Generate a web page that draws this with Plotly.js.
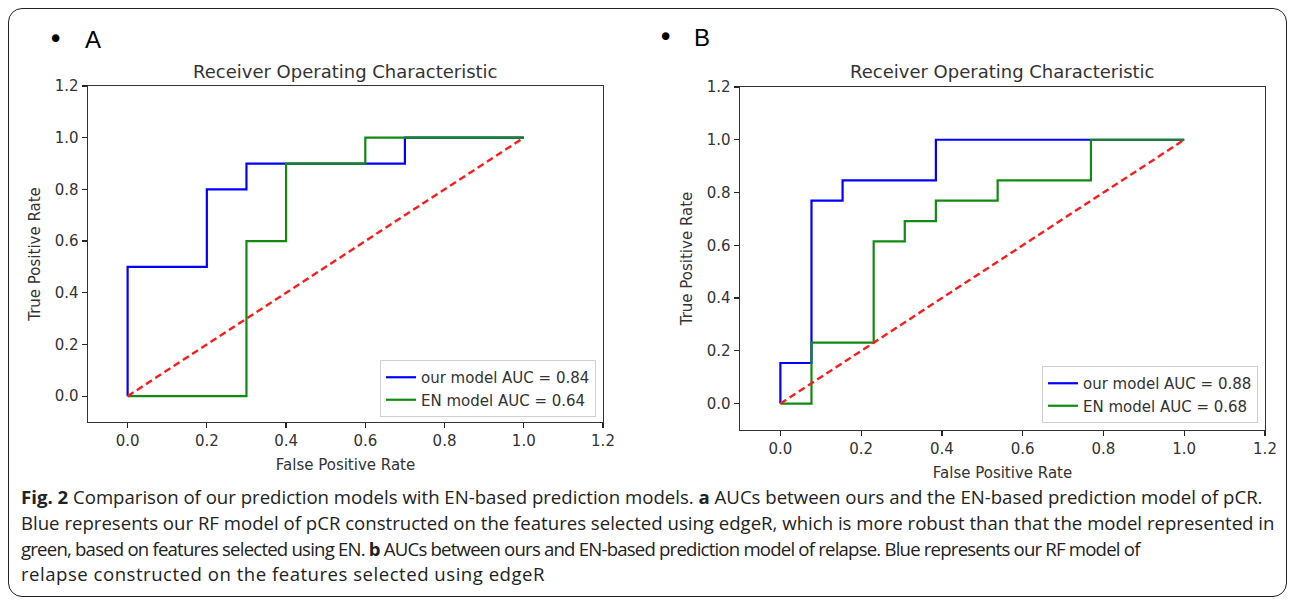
<!DOCTYPE html>
<html>
<head>
<meta charset="utf-8">
<script src="https://cdn.plot.ly/plotly-3.0.1.min.js"></script>
<style>
  html, body { margin: 0; padding: 0; background: #ffffff; }
  #wrap { position: relative; width: 1295px; height: 605px; }
  #chart { position: absolute; left: 0; top: 0; width: 1295px; height: 605px; }
  #frame { position: absolute; left: 8px; top: 8px; width: 1277px; height: 587px;
           border: 1.5px solid #222; border-radius: 14px; pointer-events: none; }
</style>
</head>
<body>
<div id="wrap">
  <div id="chart"></div>
  <div id="frame"></div>
</div>
<script>
// ---- Data ----
const fprA_our = [0, 0, 0.2, 0.2, 0.3, 0.3, 0.7, 0.7, 1.0];
const tprA_our = [0, 0.5, 0.5, 0.8, 0.8, 0.9, 0.9, 1.0, 1.0];
const fprA_en  = [0, 0.3, 0.3, 0.4, 0.4, 0.6, 0.6, 1.0];
const tprA_en  = [0, 0, 0.6, 0.6, 0.9, 0.9, 1.0, 1.0];

const fprB_our = [0, 0, 0.077, 0.077, 0.154, 0.154, 0.385, 0.385, 1.0];
const tprB_our = [0, 0.154, 0.154, 0.769, 0.769, 0.846, 0.846, 1.0, 1.0];
const fprB_en  = [0, 0.077, 0.077, 0.231, 0.231, 0.308, 0.308, 0.385, 0.385, 0.538, 0.538, 0.769, 0.769, 1.0];
const tprB_en  = [0, 0, 0.231, 0.231, 0.615, 0.615, 0.692, 0.692, 0.769, 0.769, 0.846, 0.846, 1.0, 1.0];

const chanceX = [0, 1];
const chanceY = [0, 1];

const legendA = ["our model AUC = 0.84", "EN model AUC = 0.64"];
const legendB = ["our model AUC = 0.88", "EN model AUC = 0.68"];

const tickVals = [0, 0.2, 0.4, 0.6, 0.8, 1.0, 1.2];
const tickText = ["0.0", "0.2", "0.4", "0.6", "0.8", "1.0", "1.2"];

const panelTitle = "Receiver Operating Characteristic";
const xTitle = "False Positive Rate";
const yTitle = "True Positive Rate";

const captionLines = [
  "<b>Fig. 2</b> Comparison of our prediction models with EN-based prediction models. <b>a</b> AUCs between ours and the EN-based prediction model of pCR.",
  "Blue represents our RF model of pCR constructed on the features selected using edgeR, which is more robust than that the model represented in",
  "green, based on features selected using EN. <b>b</b> AUCs between ours and EN-based prediction model of relapse. Blue represents our RF model of",
  "relapse constructed on the features selected using edgeR"
];
const captionSpacing = [0, 0, -0.8, 0.5];

// ---- Styling ----
const W = 1295, H = 605;
const px = v => v / W;
const py = v => 1 - v / H;
const mpl = "DejaVu Sans, sans-serif";
const ink = "#262626";

function line(x, y, color, xa, ya, name, legend, dash, width) {
  return {
    x: x, y: y, xaxis: xa, yaxis: ya, type: "scatter", mode: "lines",
    name: name || "", showlegend: !!name, legend: legend,
    line: { color: color, width: width || 2.2, dash: dash || "solid" },
    hoverinfo: "skip"
  };
}

const traces = [
  line(fprA_our, tprA_our, "#0000ff", "x", "y", legendA[0], "legend"),
  line(fprA_en, tprA_en, "#108a10", "x", "y", legendA[1], "legend"),
  line(chanceX, chanceY, "#ff1a1a", "x", "y", null, "legend", "7px,4px", 2.4),
  line(fprB_our, tprB_our, "#0000ff", "x2", "y2", legendB[0], "legend2"),
  line(fprB_en, tprB_en, "#108a10", "x2", "y2", legendB[1], "legend2"),
  line(chanceX, chanceY, "#ff1a1a", "x2", "y2", null, "legend2", "7px,4px", 2.4)
];

function axis(domain, anchor, title, standoff) {
  return {
    domain: domain, anchor: anchor, range: [-0.1, 1.2],
    tickmode: "array", tickvals: tickVals, ticktext: tickText,
    ticks: "outside", ticklen: 5, tickwidth: 1.2, tickcolor: ink,
    tickfont: { family: mpl, size: 15, color: "#333" },
    showline: true, linecolor: "#333", linewidth: 1.4, mirror: true,
    showgrid: false, zeroline: false, automargin: false,
    title: { text: title, font: { family: mpl, size: 15, color: "#333" }, standoff: standoff }
  };
}

const legendStyle = (x, y) => ({
  x: x, y: y, xref: "paper", yref: "paper", xanchor: "right", yanchor: "bottom",
  bgcolor: "rgba(255,255,255,0.9)", bordercolor: "#d0d0d0", borderwidth: 1,
  font: { family: mpl, size: 15, color: "#333" }, tracegroupgap: 0
});

const annotations = [
  { text: panelTitle, x: px(345), y: py(71), xref: "paper", yref: "paper", showarrow: false,
    xanchor: "center", yanchor: "middle", font: { family: mpl, size: 18, color: "#333" } },
  { text: panelTitle, x: px(1002), y: py(72), xref: "paper", yref: "paper", showarrow: false,
    xanchor: "center", yanchor: "middle", font: { family: mpl, size: 18, color: "#333" } },
  { text: "•", x: px(55), y: py(39), xref: "paper", yref: "paper", showarrow: false,
    xanchor: "center", yanchor: "middle", font: { family: "DejaVu Sans, sans-serif", size: 26, color: "#000" } },
  { text: "A", x: px(83), y: py(39), xref: "paper", yref: "paper", showarrow: false,
    xanchor: "left", yanchor: "middle", font: { family: "Liberation Sans, sans-serif", size: 24, color: "#000" } },
  { text: "•", x: px(666), y: py(37), xref: "paper", yref: "paper", showarrow: false,
    xanchor: "center", yanchor: "middle", font: { family: "DejaVu Sans, sans-serif", size: 26, color: "#000" } },
  { text: "B", x: px(692), y: py(37), xref: "paper", yref: "paper", showarrow: false,
    xanchor: "left", yanchor: "middle", font: { family: "Liberation Sans, sans-serif", size: 24, color: "#000" } }
];
const capY = [497, 522, 548, 573];
captionLines.forEach((t, i) => {
  const txt = captionSpacing[i] ? '<span style="letter-spacing:' + captionSpacing[i] + 'px">' + t + '</span>' : t;
  annotations.push({ text: txt, x: px(19), y: py(capY[i]), xref: "paper", yref: "paper", showarrow: false,
    xanchor: "left", yanchor: "middle", align: "left",
    font: { family: "Open Sans, sans-serif", size: 18.6, color: "#222" } });
});

const layout = {
  width: W, height: H,
  margin: { l: 0, r: 0, t: 0, b: 0 },
  paper_bgcolor: "#ffffff", plot_bgcolor: "#ffffff",
  showlegend: true,
  xaxis: axis([px(88), px(603)], "y", xTitle, 10),
  yaxis: axis([py(422), py(86)], "x", yTitle, 10),
  xaxis2: axis([px(740), px(1265)], "y2", xTitle, 10),
  yaxis2: axis([py(430), py(87)], "x2", yTitle, 10),
  legend: legendStyle(px(596), py(417)),
  legend2: legendStyle(px(1258), py(423)),
  annotations: annotations
};

Plotly.newPlot("chart", traces, layout, { displayModeBar: false, staticPlot: true });
</script>
</body>
</html>
